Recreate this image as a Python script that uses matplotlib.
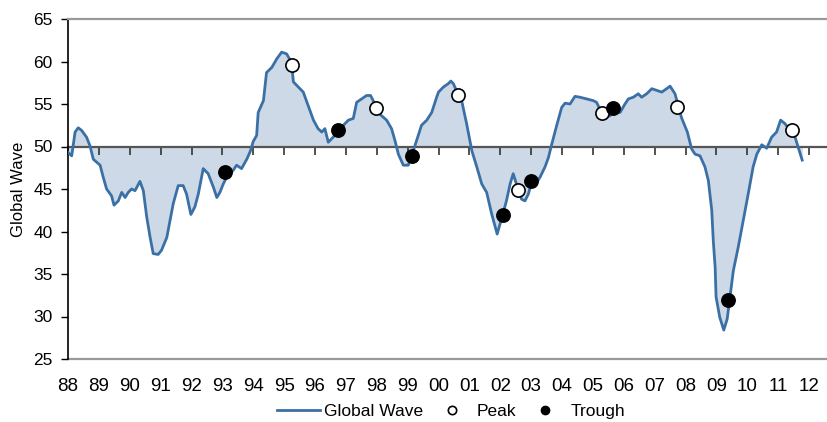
import matplotlib
matplotlib.use("Agg")
import matplotlib.pyplot as plt
from matplotlib.lines import Line2D
import numpy as np

plt.rcParams['font.family'] = ['Liberation Sans', 'DejaVu Sans']

# Global Wave index (decimal year, value)
wave_years = [
    1988.00, 1988.12, 1988.23, 1988.33, 1988.44, 1988.60, 1988.71, 1988.82,
    1989.04, 1989.14, 1989.25, 1989.41, 1989.49, 1989.63, 1989.74, 1989.85,
    1989.95, 1990.06, 1990.17, 1990.33, 1990.44, 1990.55, 1990.66, 1990.76,
    1990.92, 1991.03, 1991.20, 1991.41, 1991.57, 1991.73, 1991.84, 1991.98,
    1992.11, 1992.22, 1992.38, 1992.54, 1992.71, 1992.82, 1992.92, 1993.03,
    1993.14, 1993.35, 1993.46, 1993.62, 1993.79, 1993.90, 1994.00, 1994.11,
    1994.16, 1994.33, 1994.43, 1994.60, 1994.76, 1994.92, 1995.08, 1995.24,
    1995.30, 1995.46, 1995.62, 1995.78, 1995.95, 1996.10, 1996.22, 1996.32,
    1996.43, 1996.59, 1996.75, 1996.92, 1997.08, 1997.24, 1997.35, 1997.51,
    1997.67, 1997.80, 1997.94, 1998.10, 1998.32, 1998.48, 1998.59, 1998.70,
    1998.86, 1999.02, 1999.13, 1999.29, 1999.45, 1999.62, 1999.78, 1999.94,
    2000.00, 2000.16, 2000.32, 2000.40, 2000.48, 2000.64, 2000.75, 2000.91,
    2001.08, 2001.24, 2001.40, 2001.56, 2001.72, 2001.90, 2002.08, 2002.20,
    2002.32, 2002.42, 2002.54, 2002.69, 2002.80, 2002.91, 2003.00, 2003.12,
    2003.29, 2003.45, 2003.56, 2003.67, 2003.83, 2003.99, 2004.10, 2004.26,
    2004.42, 2004.58, 2004.80, 2005.01, 2005.12, 2005.28, 2005.45, 2005.55,
    2005.70, 2005.88, 2006.04, 2006.15, 2006.31, 2006.47, 2006.58, 2006.74,
    2006.91, 2007.07, 2007.23, 2007.39, 2007.50, 2007.66, 2007.87, 2008.06,
    2008.20, 2008.31, 2008.47, 2008.63, 2008.74, 2008.85, 2008.90, 2008.96,
    2008.99, 2009.11, 2009.24, 2009.35, 2009.55, 2009.71, 2009.87, 2010.03,
    2010.19, 2010.31, 2010.47, 2010.63, 2010.79, 2010.95, 2011.08, 2011.22,
    2011.55, 2011.65, 2011.78,
]
wave_values = [
    49.3, 48.9, 51.7, 52.2, 51.9, 51.1, 50.1, 48.5,
    47.8, 46.4, 45.0, 44.2, 43.1, 43.6, 44.6, 44.0,
    44.6, 45.0, 44.8, 45.9, 44.8, 41.7, 39.3, 37.4,
    37.3, 37.8, 39.3, 43.3, 45.4, 45.4, 44.4, 42.0,
    42.9, 44.4, 47.4, 46.8, 45.2, 44.0, 44.6, 45.6,
    46.4, 47.2, 47.8, 47.4, 48.5, 49.4, 50.6, 51.3,
    54.0, 55.4, 58.7, 59.3, 60.3, 61.1, 60.9, 59.9,
    57.6, 57.0, 56.4, 54.8, 53.1, 52.1, 51.7, 52.1,
    50.5, 51.1, 51.8, 52.5, 53.1, 53.3, 55.2, 55.6,
    56.0, 56.0, 55.0, 53.8, 53.1, 52.1, 50.7, 49.1,
    47.8, 47.8, 48.9, 50.7, 52.5, 53.1, 54.0, 55.8,
    56.4, 57.0, 57.4, 57.7, 57.4, 56.1, 55.4, 52.7,
    49.5, 47.6, 45.6, 44.6, 42.1, 39.7, 42.0, 43.6,
    45.6, 46.8, 45.4, 43.8, 43.6, 44.4, 45.6, 45.4,
    46.4, 47.6, 48.7, 50.3, 52.5, 54.6, 55.1, 55.0,
    55.9, 55.8, 55.6, 55.4, 55.2, 54.0, 53.6, 53.6,
    54.2, 54.0, 55.0, 55.6, 55.8, 56.2, 55.8, 56.2,
    56.8, 56.6, 56.4, 56.8, 57.1, 56.2, 53.4, 51.7,
    49.7, 49.1, 48.9, 47.6, 46.0, 42.5, 38.9, 35.8,
    32.3, 29.9, 28.4, 29.7, 35.4, 38.2, 41.3, 44.4,
    47.6, 49.1, 50.2, 49.8, 51.1, 51.7, 53.1, 52.7,
    51.1, 49.9, 48.4,
]

# Cycle turning points
peak_years = [1995.26, 1997.99, 2000.64, 2002.59, 2005.28, 2007.74, 2011.44]
peak_values = [59.6, 54.5, 56.1, 44.9, 54.0, 54.7, 51.9]
trough_years = [1993.08, 1996.73, 1999.13, 2002.08, 2003.00, 2005.64, 2009.39]
trough_values = [47.0, 51.9, 48.9, 42.0, 45.9, 54.5, 32.0]

tick_years = list(range(1988, 2013))
tick_labels = [f"{y % 100:02d}" for y in tick_years]
y_ticks = [25, 30, 35, 40, 45, 50, 55, 60, 65]

line_color = '#3B70A6'
fill_color = '#CDD9E6'
baseline = 50

fig = plt.figure(figsize=(8.28, 4.22), dpi=100)
ax = fig.add_axes([68 / 828, 63 / 422, 758 / 828, 340 / 422])

x = np.array(wave_years)
y = np.array(wave_values)
ax.fill_between(x, y, baseline, color=fill_color, linewidth=0, zorder=1)
ax.plot(x, y, color=line_color, linewidth=2.0, zorder=3, solid_joinstyle='round')

ax.plot(peak_years, peak_values, linestyle='none', marker='o', markersize=9.5,
        markerfacecolor='white', markeredgecolor='black', markeredgewidth=1.2, zorder=4)
ax.plot(trough_years, trough_values, linestyle='none', marker='o', markersize=9.5,
        markerfacecolor='black', markeredgecolor='black', markeredgewidth=1.2, zorder=4)

ax.set_xlim(1988, 1988 + 758 / 30.875)
ax.set_ylim(25, 65)

# y axis
ax.set_yticks(y_ticks)
ax.tick_params(axis='y', direction='out', length=5, width=1, colors='black',
               labelsize=12.5, pad=6)
ax.spines['left'].set_color('black')
ax.spines['left'].set_linewidth(1.2)
ax.spines['right'].set_visible(False)
ax.spines['top'].set_color('#999999')
ax.spines['top'].set_linewidth(1.6)

# x axis crosses at 50 with tick marks, labels sit below the frame
ax.spines['bottom'].set_position(('data', baseline))
ax.spines['bottom'].set_color('#555555')
ax.spines['bottom'].set_linewidth(1.6)
ax.spines['bottom'].set_zorder(2)
ax.set_xticks(tick_years)
ax.tick_params(axis='x', direction='out', length=6, width=1.2, colors='#333333',
               labelbottom=False)

sec = ax.secondary_xaxis(0.0)
sec.set_xticks(tick_years)
sec.set_xticklabels(tick_labels)
sec.tick_params(axis='x', length=0, labelsize=13.5, pad=13.5, colors='black')
sec.spines['bottom'].set_color('#999999')
sec.spines['bottom'].set_linewidth(1.6)

ax.set_ylabel('Global Wave', fontsize=12, labelpad=5)

handles = [
    Line2D([], [], color=line_color, linewidth=2.0),
    Line2D([], [], linestyle='none', marker='o', markersize=6,
           markerfacecolor='white', markeredgecolor='black', markeredgewidth=1.2),
    Line2D([], [], linestyle='none', marker='o', markersize=6,
           markerfacecolor='black', markeredgecolor='black'),
]
fig.legend(handles, ['Global Wave', 'Peak', 'Trough'], loc='center',
           bbox_to_anchor=(451 / 828, 1 - 411 / 422), ncol=3, frameon=False,
           fontsize=12.5, handlelength=2.5, handletextpad=0.2, columnspacing=0.4)

fig.savefig('out.png', dpi=100)
